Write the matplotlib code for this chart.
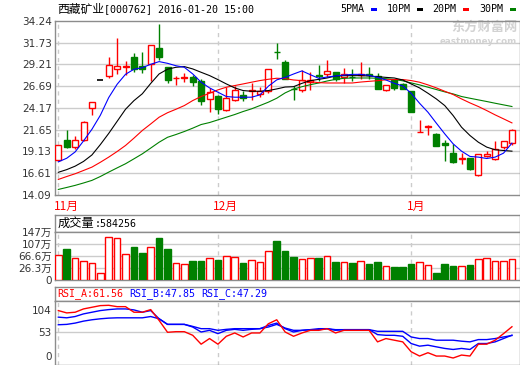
import numpy as np
import matplotlib.pyplot as plt
from matplotlib import transforms
from matplotlib.patches import Rectangle

# ---- data ----
opens = [18.15, 20.42, 19.57, 20.49, 24.20, 27.39, 27.87, 28.72, 28.93, 30.11,
         29.07, 29.26, 31.07, 28.87, 27.58, 27.64, 27.71, 27.25, 25.20, 25.51,
         23.97, 25.13, 25.71, 26.15, 25.78, 26.17, 30.63, 29.48, 26.40, 26.24,
         27.20, 27.92, 28.09, 28.28, 27.78, 27.78, 28.00, 28.05, 27.90, 26.20,
         27.40, 26.90, 26.09, 21.37, 21.98, 21.15, 20.07, 18.91, 18.22, 18.30,
         16.36, 18.60, 18.26, 19.61, 20.07]
highs = [19.90, 21.58, 20.88, 22.60, 24.90, 27.39, 30.11, 32.23, 29.57, 30.49,
         30.69, 31.50, 33.89, 28.95, 27.87, 28.18, 27.95, 27.56, 26.48, 25.70,
         26.56, 26.75, 26.09, 27.10, 26.56, 28.72, 31.65, 29.75, 26.75, 28.55,
         28.29, 29.13, 29.71, 28.30, 28.75, 28.67, 29.44, 28.86, 28.20, 26.82,
         27.50, 27.00, 26.09, 22.81, 22.22, 21.20, 20.46, 19.99, 18.91, 18.35,
         18.76, 19.20, 20.30, 20.30, 21.73]
lows = [18.10, 19.53, 19.35, 20.35, 23.39, 27.39, 27.64, 28.10, 28.02, 28.33,
        28.18, 27.33, 29.72, 27.02, 26.79, 27.14, 26.71, 24.51, 23.66, 23.47,
        23.85, 25.00, 25.01, 25.13, 25.40, 25.86, 29.84, 27.51, 25.13, 26.00,
        26.25, 27.32, 27.78, 27.32, 27.10, 27.32, 27.50, 27.50, 26.39, 26.08,
        26.28, 26.30, 23.74, 21.37, 21.00, 19.76, 17.95, 17.80, 17.68, 16.98,
        16.21, 18.50, 18.06, 19.40, 19.88]
closes = [19.85, 19.65, 20.49, 22.58, 24.90, 27.39, 29.18, 29.07, 28.97, 28.64,
          28.68, 31.50, 30.03, 27.41, 27.62, 27.79, 27.17, 25.01, 25.98, 24.05,
          25.28, 26.21, 25.32, 26.19, 26.17, 28.72, 30.59, 27.51, 26.36, 27.40,
          27.40, 27.88, 28.40, 27.51, 28.09, 27.72, 28.10, 28.00, 26.39, 26.82,
          26.51, 26.40, 23.74, 21.37, 22.02, 19.76, 19.80, 17.91, 18.30, 17.10,
          18.76, 18.80, 19.34, 20.30, 21.54]

ma5 = [17.90, 18.32, 19.05, 20.33, 21.68, 23.30, 25.36, 26.90, 28.06, 28.64,
       28.83, 29.22, 29.53, 29.33, 29.05, 28.87, 28.10, 27.14, 26.48, 25.98,
       25.48, 25.40, 25.40, 25.40, 25.67, 26.67, 27.41, 27.70, 28.09, 28.45,
       28.01, 27.59, 27.74, 27.86, 27.97, 28.05, 28.05, 27.94, 27.70, 27.40,
       27.01, 26.70, 25.86, 24.70, 23.66, 22.39, 21.15, 19.99, 19.14, 18.53,
       18.45, 18.29, 18.45, 18.91, 20.07]
ma10 = [16.69, 17.00, 17.40, 17.95, 18.70, 19.90, 21.20, 22.60, 24.00, 25.00,
        25.80, 27.00, 28.10, 28.65, 28.87, 28.95, 28.68, 28.29, 27.91, 27.44,
        26.94, 26.48, 26.17, 26.09, 26.09, 26.17, 26.36, 26.58, 26.62, 27.01,
        27.32, 27.47, 27.63, 27.86, 27.90, 27.90, 27.90, 27.86, 27.78, 27.70,
        27.63, 27.40, 26.94, 26.48, 25.86, 25.20, 24.43, 23.27, 21.92, 20.96,
        20.18, 19.61, 19.30, 19.22, 19.14]
ma20 = [15.86, 16.20, 16.52, 16.90, 17.29, 17.85, 18.45, 19.10, 19.80, 20.65,
        21.54, 22.30, 23.08, 23.60, 24.00, 24.43, 25.01, 25.48, 25.86, 26.25,
        26.56, 26.75, 26.94, 27.14, 27.33, 27.48, 27.60, 27.55, 27.40, 27.32,
        27.20, 27.09, 27.05, 27.05, 27.05, 27.05, 27.16, 27.24, 27.32, 27.42,
        27.45, 27.45, 27.33, 27.14, 26.83, 26.48, 26.09, 25.71, 25.20, 24.74,
        24.32, 23.85, 23.35, 22.89, 22.42]
ma30 = [14.70, 14.93, 15.17, 15.45, 15.75, 16.20, 16.71, 17.20, 17.68, 18.25,
        18.83, 19.50, 20.18, 20.75, 21.07, 21.42, 21.81, 22.23, 22.46, 22.77,
        23.08, 23.39, 23.74, 24.05, 24.43, 24.82, 25.28, 25.90, 26.35, 26.62,
        26.85, 27.05, 27.28, 27.47, 27.59, 27.63, 27.63, 27.63, 27.60, 27.55,
        27.45, 27.30, 27.06, 26.83, 26.56, 26.29, 26.02, 25.78, 25.48, 25.28,
        25.09, 24.90, 24.70, 24.51, 24.32]

# volume in 万 (10k shares); last value from the header 584256
volume = [70.3, 90.5, 59.1, 49.0, 43.2, 8.4, 131.1, 126.7, 73.7, 97.3,
          78.1, 97.3, 128.8, 90.5, 43.2, 39.9, 50.0, 50.0, 60.1, 53.4,
          67.1, 63.5, 44.2, 53.4, 46.6, 83.8, 118.6, 83.8, 63.5, 55.7,
          59.1, 60.1, 67.1, 46.6, 46.6, 43.2, 49.0, 39.9, 46.6, 33.1,
          29.7, 29.7, 39.9, 46.6, 35.5, 9.4, 39.9, 33.1, 33.1, 36.5,
          55.7, 59.1, 50.0, 50.0, 58.4256]

rsi_a = [87.9, 84.1, 85.2, 90.6, 93.3, 96.0, 96.5, 94.3, 94.3, 85.2,
         85.2, 89.5, 71.8, 52.5, 53.5, 53.5, 47.6, 33.1, 42.3, 33.1,
         46.0, 51.4, 44.9, 51.4, 51.4, 66.4, 72.9, 53.0, 46.0, 51.4,
         55.7, 55.7, 58.4, 51.4, 55.7, 55.7, 55.7, 55.7, 36.9, 42.3,
         39.6, 36.9, 20.8, 13.8, 19.2, 13.8, 13.8, 10.6, 15.4, 13.8,
         33.1, 33.1, 39.6, 50.3, 61.56]
rsi_b = [77.2, 76.1, 78.2, 82.5, 85.2, 87.9, 89.5, 90.6, 90.6, 89.0,
         85.2, 87.9, 74.5, 65.4, 65.4, 65.4, 61.1, 53.0, 55.7, 50.3,
         55.7, 57.3, 55.7, 57.3, 58.4, 63.7, 67.5, 58.4, 53.0, 55.7,
         56.8, 56.8, 58.4, 55.7, 56.8, 56.8, 56.8, 56.8, 48.7, 47.6,
         47.6, 46.0, 34.2, 29.9, 31.5, 28.8, 26.2, 24.5, 26.2, 24.5,
         34.2, 34.2, 36.9, 42.3, 47.85]
rsi_c = [64.8, 65.4, 67.5, 70.7, 72.9, 74.5, 75.6, 76.1, 76.1, 76.1,
         76.1, 78.2, 74.5, 65.4, 65.4, 65.4, 62.1, 58.4, 58.4, 55.7,
         57.3, 58.4, 58.4, 58.4, 58.4, 61.1, 65.4, 59.4, 55.7, 55.7,
         56.8, 58.4, 58.4, 56.8, 56.8, 56.8, 56.8, 56.8, 54.1, 54.1,
         54.1, 54.1, 44.9, 42.3, 42.3, 39.6, 39.6, 39.6, 38.0, 36.9,
         40.6, 40.6, 42.3, 44.9, 47.29]

month_pos = [0, 19, 42]
month_labels = ['11月', '12月', '1月']
price_ticks = [14.09, 16.61, 19.13, 21.65, 24.17, 26.69, 29.21, 31.73, 34.24]
vol_ticks = [26.3, 66.6, 107, 147]
vol_floor = -13.9
rsi_ticks = [0, 53, 104]

RED = '#ff0000'
GREEN = '#008000'
BLUE = '#0000ff'
GRID = '#cccccc'
FRAME = '#8c8c8c'
CJK = ['Noto Sans CJK SC', 'DejaVu Sans']
NUM = ['DejaVu Sans', 'Noto Sans CJK SC']
MONO = 'DejaVu Sans Mono'

W, H = 520, 365
fig = plt.figure(figsize=(W / 100, H / 100), dpi=100)


def box(left, top, right, bottom):
    return [left / W, 1 - bottom / H, (right - left) / W, (bottom - top) / H]


ax_p = fig.add_axes(box(55.3, 21, 519.5, 194.7))
ax_vh = fig.add_axes(box(55.3, 215, 519.5, 232.3))
ax_v = fig.add_axes(box(55.3, 232.3, 519.5, 280))
ax_rh = fig.add_axes(box(55.3, 287.3, 519.5, 300.7))
ax_r = fig.add_axes(box(55.3, 300.7, 519.5, 364.5))

x = np.arange(len(closes))
xlim = (-0.36, 54.9)

for ax in (ax_p, ax_vh, ax_v, ax_rh, ax_r):
    ax.set_xlim(*xlim)
    for s in ax.spines.values():
        s.set_color(FRAME)
        s.set_linewidth(1.0)
    ax.tick_params(length=0, labelsize=7.5, pad=2.5, colors='#333333')
    ax.set_xticks([])
for ax in (ax_vh, ax_rh):
    ax.set_yticks([])

# ---- price panel ----
ax_p.set_ylim(14.09, 34.24)
ax_p.set_yticks(price_ticks)
ax_p.set_yticklabels([f'{t:.2f}' for t in price_ticks])
for t in price_ticks[1:-1]:
    ax_p.axhline(t, color=GRID, lw=1, zorder=0)
for m in month_pos:
    for ax in (ax_p, ax_v, ax_r):
        ax.axvline(m, color=GRID, lw=1, ls=(0, (3, 3)), zorder=0)

bw = 0.72
for i in x:
    o, h, l, c = opens[i], highs[i], lows[i], closes[i]
    if h == l:
        ax_p.hlines(c, i - bw / 2, i + bw / 2, color='black', lw=1.2, zorder=3)
        continue
    col = RED if c >= o else GREEN
    face = 'white' if c >= o else GREEN
    ax_p.vlines(i, l, h, color=col, lw=1, zorder=2)
    ax_p.add_patch(Rectangle((i - bw / 2, min(o, c)), bw, abs(c - o),
                             facecolor=face, edgecolor=col, lw=1, zorder=3))

ax_p.plot(x, ma30, color=GREEN, lw=0.8, zorder=4)
ax_p.plot(x, ma20, color=RED, lw=0.8, zorder=4)
ax_p.plot(x, ma10, color='black', lw=0.8, zorder=4)
ax_p.plot(x, ma5, color=BLUE, lw=0.8, zorder=4)

lbl_tr = transforms.blended_transform_factory(ax_p.transData, ax_p.transAxes)
for m, lab in zip(month_pos, month_labels):
    ax_p.text(m - 0.55, -0.066, lab, transform=lbl_tr, color=RED, fontsize=8.5,
              family=CJK, ha='left', va='center')

# watermark
ax_p.text(0.995, 0.966, '东方财富网', transform=ax_p.transAxes, color='#d2d2d2',
          fontsize=9.5, fontweight='bold', family=CJK, ha='right', va='center', zorder=1)
ax_p.text(0.995, 0.88, 'eastmoney.com', transform=ax_p.transAxes, color='#d2d2d2',
          fontsize=6.3, fontweight='bold', family='DejaVu Sans', ha='right', va='center', zorder=1)

# ---- title and legend ----
fig.text(57 / W, 1 - 9.5 / H, '西藏矿业', family=CJK, fontsize=8.5, va='center')
fig.text(104.3 / W, 1 - 9.5 / H, '[000762] 2016-01-20 15:00', family=MONO,
         fontsize=7.2, va='center')
for name, col, xs in [('5PMA', BLUE, 340.7), ('10PM', 'black', 386.7),
                      ('20PM', RED, 432.7), ('30PM', GREEN, 479)]:
    fig.text(xs / W, 1 - 9.5 / H, name, family=MONO, fontsize=7.2, va='center')
    fig.add_artist(Rectangle(((xs + 30.5) / W, 1 - 11 / H), 6 / W, 2.7 / H,
                             transform=fig.transFigure, color=col, lw=0))

# ---- volume panel ----
ax_vh.text(1.9 / 464.2, 0.5, '成交量', transform=ax_vh.transAxes, family=CJK,
           fontsize=8.8, va='center', ha='left')
ax_vh.text(39.5 / 464.2, 0.5, f':{round(volume[-1] * 10000)}', transform=ax_vh.transAxes,
           family=MONO, fontsize=7.2, va='center', ha='left')

ax_v.set_ylim(vol_floor, 147)
vol_cols = [RED if c >= o else GREEN for o, c in zip(opens, closes)]
vol_face = ['white' if c >= o else GREEN for o, c in zip(opens, closes)]
ax_v.bar(x, np.array(volume) - vol_floor, bottom=vol_floor, width=0.8,
         color=vol_face, edgecolor=vol_cols, lw=1, zorder=3)
ax_v.set_yticks([vol_floor] + vol_ticks)
ax_v.set_yticklabels(['0'] + [f'{t:g}万' for t in vol_ticks], family=NUM)
for t in vol_ticks[:-1]:
    ax_v.axhline(t, color=GRID, lw=1, zorder=0)

# ---- RSI panel ----
for txt, col, xs in [(f'RSI_A:{rsi_a[-1]:.2f}', RED, 57.3),
                     (f'RSI_B:{rsi_b[-1]:.2f}', BLUE, 129),
                     (f'RSI_C:{rsi_c[-1]:.2f}', BLUE, 201)]:
    ax_rh.text((xs - 55.3) / 464.2, 0.5, txt, transform=ax_rh.transAxes,
               family=MONO, fontsize=7.2, color=col, va='center', ha='left')

ax_r.set_ylim(0, 104)
ax_r.axhline(53, color=GRID, lw=1, zorder=0)
ax_r.plot(x, rsi_c, color=BLUE, lw=1.0, zorder=3)
ax_r.plot(x, rsi_b, color=BLUE, lw=1.0, zorder=3)
ax_r.plot(x, rsi_a, color=RED, lw=1.0, zorder=4)
ax_r.set_yticks(rsi_ticks)
ax_r.set_yticklabels([str(t) for t in rsi_ticks])
labels = ax_r.get_yticklabels()
labels[0].set_transform(labels[0].get_transform() +
                        transforms.ScaledTranslation(0, 9 / 100, fig.dpi_scale_trans))
labels[2].set_transform(labels[2].get_transform() +
                        transforms.ScaledTranslation(0, -9.3 / 100, fig.dpi_scale_trans))

fig.savefig('out.png', dpi=100, facecolor='white')
